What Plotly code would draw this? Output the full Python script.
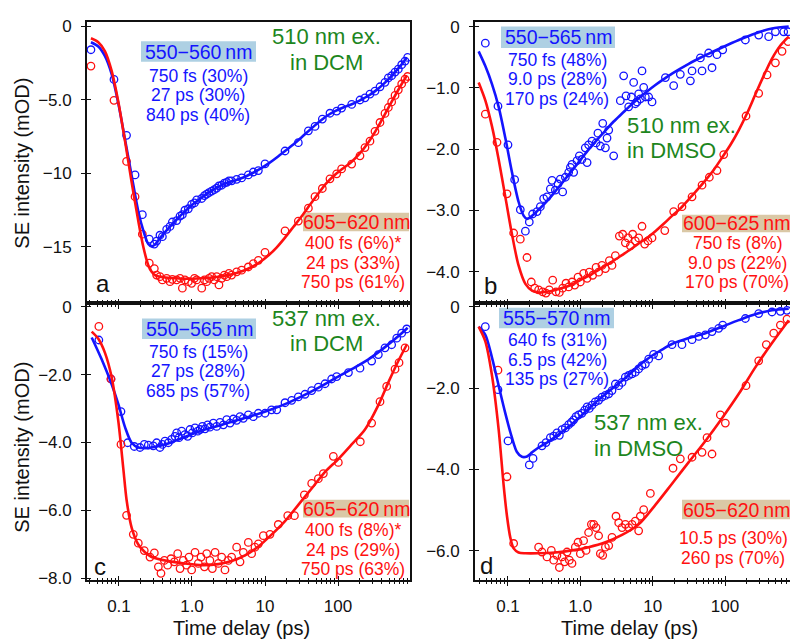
import plotly.graph_objects as go

W, H = 790, 641
FONT = "Liberation Sans, Arial, Helvetica, sans-serif"
BLUE = "#1414ff"
RED = "#ff1010"
GREEN = "#1d861d"
INK = "#111111"
BOX_BLUE = "#aed0e3"
BOX_TAN = "#dac8a6"

# ---------------- panel a : 510 nm ex. in DCM ----------------
a_t = [0.0413, 0.0854, 0.127, 0.166, 0.209, 0.26, 0.305, 0.328, 0.364, 0.393,
       0.45, 0.50, 0.538, 0.617, 0.686, 0.738, 0.80, 0.891, 0.989, 1.08,
       1.16, 1.36, 1.48, 1.59, 1.71, 1.86, 2.02, 2.18, 2.34, 2.55,
       2.77, 2.99, 3.21, 3.49, 4.09, 4.79, 5.91, 6.92, 8.11, 10.0,
       18.8, 28.6, 39.3, 48.4, 61.0, 77.6, 95.9, 112, 154, 200,
       234, 274, 321, 376, 440, 489, 543, 604, 670, 745, 828, 899]
a_blue = [-1.58, -3.6, -7.4, -10.1, -12.8, -14.47, -14.8, -14.6, -14.2, -14.3,
          -13.8, -13.6, -13.3, -13.2, -12.9, -12.8, -12.5, -12.4, -12.1, -12.0,
          -11.8, -11.7, -11.5, -11.4, -11.3, -11.2, -11.1, -11.0, -10.85, -10.8,
          -10.65, -10.6, -10.5, -10.5, -10.4, -10.3, -10.1, -9.9, -9.8, -9.35,
          -8.47, -7.9, -7.1, -6.8, -6.3, -5.9, -5.75, -5.55, -5.3, -5.0,
          -4.85, -4.6, -4.4, -4.1, -3.8, -3.5, -3.35, -3.1, -2.9, -2.6, -2.35, -2.1]
a_red = [-2.69, -5.02, -9.18, -11.58, -14.13, -16.1, -16.47, -16.91, -17.02, -17.24,
         -17.13, -17.36, -17.2, -17.24, -17.13, -17.8, -17.24, -17.36, -17.47, -17.13,
         -17.24, -17.8, -17.24, -17.36, -17.13, -17.02, -17.24, -17.02, -17.58, -17.13,
         -16.91, -17.02, -16.8, -16.91, -16.69, -16.58, -16.36, -16.13, -15.91, -15.36,
         -13.91, -13.24, -12.36, -11.58, -11.02, -10.36, -10.02, -9.69, -9.36, -8.8,
         -8.24, -7.8, -7.13, -6.53, -5.91, -5.51, -5.13, -4.69, -4.31, -3.91, -3.58, -3.4]
a_fit_t = [0.0413, 0.0521, 0.0643, 0.0794, 0.098, 0.121, 0.149, 0.184, 0.216, 0.252,
           0.28, 0.311, 0.364, 0.474, 0.617, 0.80, 1.04, 1.36, 1.76, 2.30,
           2.99, 3.88, 5.05, 6.56, 8.55, 11.1, 14.5, 18.8, 24.4, 31.8,
           41.3, 53.8, 70.0, 91.0, 118, 154, 200, 261, 339, 440, 573, 745, 873]
a_fit_blue = [-1.07, -1.36, -2.02, -3.24, -5.24, -7.69, -10.13, -12.58, -13.91, -14.8,
              -14.96, -14.84, -14.4, -13.73, -13.13, -12.58, -12.07, -11.64, -11.24, -10.91,
              -10.64, -10.47, -10.27, -10.0, -9.69, -9.33, -8.91, -8.47, -8.02, -7.53,
              -7.02, -6.53, -6.09, -5.76, -5.51, -5.29, -5.02, -4.71, -4.31, -3.82, -3.24, -2.58, -2.13]
a_fit_red = [-0.8, -1.07, -1.69, -3.02, -5.13, -7.8, -10.58, -13.24, -15.02, -16.24,
             -16.69, -16.91, -17.02, -17.09, -17.13, -17.16, -17.16, -17.13, -17.09, -17.02,
             -16.93, -16.8, -16.62, -16.36, -16.02, -15.58, -15.02, -14.36, -13.64, -12.91,
             -12.13, -11.36, -10.64, -10.09, -9.64, -9.2, -8.62, -7.87, -6.98, -5.96, -4.91, -3.91, -3.36]

# ---------------- panel b : 510 nm ex. in DMSO ----------------
b_blue_t = [0.0486, 0.0727, 0.1, 0.1236, 0.148, 0.174, 0.197, 0.219, 0.252, 0.280,
            0.311, 0.346, 0.385, 0.406, 0.451, 0.491, 0.529, 0.570, 0.621, 0.690,
            0.728, 0.767, 0.809, 0.900, 0.969, 1.05, 1.17, 1.24, 1.30, 1.45,
            1.65, 1.75, 1.89, 2.04, 2.22, 2.34, 2.47, 2.89, 3.57, 3.97,
            4.28, 4.66, 5.07, 5.46, 5.75, 6.07, 6.40, 6.75, 7.12, 7.51,
            7.92, 8.81, 9.80, 15.0, 19.5, 24.1, 33.2, 35.0, 45.6, 48.1,
            59.4, 66.1, 77.4, 92.9, 191, 292, 401, 497, 647, 743]
b_blue = [-0.272, -1.30, -1.93, -2.50, -2.99, -3.34, -3.19, -3.06, -3.02, -2.94,
          -2.81, -2.78, -2.65, -2.51, -2.67, -2.57, -2.49, -2.70, -2.46, -2.38,
          -2.30, -2.25, -2.38, -2.19, -2.11, -2.17, -1.98, -2.22, -1.93, -1.87,
          -1.90, -1.74, -1.95, -1.58, -1.98, -1.82, -1.69, -2.11, -1.21, -0.805,
          -1.13, -1.31, -1.15, -0.912, -1.26, -1.23, -1.10, -1.18, -0.725, -0.992,
          -1.15, -1.15, -1.23, -0.832, -0.965, -0.779, -0.885, -0.725, -0.512, -0.725,
          -0.432, -0.672, -0.459, -0.379, -0.219, -0.139, -0.165, -0.085, -0.085, -0.085]
b_red_t = [0.0486, 0.0705, 0.0969, 0.1197, 0.148, 0.183, 0.210, 0.234, 0.265, 0.302,
           0.335, 0.372, 0.415, 0.461, 0.513, 0.570, 0.634, 0.690, 0.767, 0.836,
           0.929, 1.0, 1.11, 1.24, 1.33, 1.48, 1.65, 1.79, 1.99, 2.22,
           2.52, 2.74, 3.05, 3.46, 3.85, 4.19, 4.56, 4.91, 5.29, 5.76,
           6.40, 7.12, 7.75, 8.61, 9.79, 14.7, 19.5, 25.4, 35.0, 48.1,
           60.7, 77.4, 95.9, 195, 292, 381, 497, 614, 743]
b_red = [-1.43, -1.89, -2.73, -3.37, -3.47, -3.77, -4.17, -4.27, -4.30, -4.33,
         -4.35, -4.30, -4.14, -4.33, -4.34, -4.27, -4.19, -4.25, -4.17, -4.22,
         -4.09, -4.17, -4.03, -4.11, -4.01, -4.06, -3.93, -4.01, -3.90, -3.95,
         -3.82, -3.90, -3.74, -3.42, -3.39, -3.53, -3.45, -3.58, -3.39, -3.50,
         -3.45, -3.26, -3.55, -3.50, -3.45, -3.33, -3.02, -2.94, -2.78, -2.59,
         -2.46, -2.35, -2.09, -1.46, -1.09, -0.789, -0.592, -0.405, -0.245]
b_fit_blue_t = [0.0393, 0.0486, 0.0601, 0.0743, 0.0919, 0.1135, 0.140, 0.165, 0.183, 0.215,
                0.265, 0.346, 0.451, 0.589, 0.767, 1.0, 1.30, 1.70, 2.22, 2.89,
                3.77, 4.91, 6.40, 8.35, 10.9, 14.2, 18.5, 31.5, 53.5, 90.9,
                155, 262, 446, 759]
b_fit_blue = [-0.405, -0.645, -0.939, -1.31, -1.82, -2.38, -2.86, -3.09, -3.14, -3.09,
              -2.99, -2.85, -2.69, -2.52, -2.35, -2.18, -2.01, -1.85, -1.70, -1.55,
              -1.42, -1.29, -1.17, -1.06, -0.955, -0.859, -0.768, -0.608, -0.469, -0.341,
              -0.219, -0.112, -0.032, 0.0]
b_fit_red_t = [0.0393, 0.0486, 0.0601, 0.0743, 0.0919, 0.1135, 0.140, 0.174, 0.215, 0.265,
               0.346, 0.451, 0.589, 0.767, 1.0, 1.30, 1.70, 2.22, 2.89, 3.77,
               4.91, 6.40, 8.35, 10.9, 14.2, 18.5, 24.1, 31.5, 41.0, 53.5,
               69.7, 90.9, 119, 155, 201, 262, 342, 446, 582, 759]
b_fit_red = [-0.912, -1.205, -1.63, -2.17, -2.78, -3.39, -3.90, -4.20, -4.31, -4.34,
             -4.33, -4.30, -4.26, -4.21, -4.14, -4.07, -3.99, -3.90, -3.82, -3.73,
             -3.64, -3.54, -3.45, -3.34, -3.22, -3.09, -2.97, -2.82, -2.67, -2.51,
             -2.34, -2.14, -1.93, -1.69, -1.42, -1.11, -0.805, -0.523, -0.309, -0.165]

# ---------------- panel c : 537 nm ex. in DCM ----------------
c_blue_t = [0.053, 0.0777, 0.1065, 0.1315, 0.162, 0.194, 0.222, 0.252, 0.295, 0.328,
            0.364, 0.393, 0.427, 0.474, 0.526, 0.585, 0.617, 0.664, 0.722, 0.80,
            0.873, 0.940, 1.01, 1.10, 1.20, 1.29, 1.39, 1.51, 1.64, 1.76,
            1.96, 2.18, 2.42, 2.69, 2.99, 3.32, 3.68, 4.09, 4.55, 5.05,
            5.91, 6.92, 8.11, 10.0, 12.3, 14.5, 18.8, 23.2, 28.6, 35.3,
            43.6, 53.8, 66.4, 81.8, 95.9, 139, 200, 289, 357, 440, 543, 637, 745, 873]
c_blue = [-0.98, -2.13, -3.09, -4.01, -4.12, -4.15, -4.06, -4.08, -4.10, -4.01,
          -4.15, -4.06, -3.96, -4.01, -3.91, -3.82, -3.72, -3.86, -3.67, -3.77,
          -3.82, -3.62, -3.72, -3.57, -3.67, -3.62, -3.53, -3.60, -3.48, -3.55,
          -3.43, -3.53, -3.41, -3.48, -3.33, -3.43, -3.31, -3.35, -3.24, -3.29,
          -3.19, -3.24, -3.14, -3.14, -3.04, -3.04, -2.83, -2.76, -2.66, -2.58,
          -2.47, -2.37, -2.27, -2.13, -2.06, -1.94, -1.81, -1.60, -1.41, -1.21, -1.12, -0.925, -0.780, -0.655]
c_red_t = [0.053, 0.0777, 0.1065, 0.127, 0.157, 0.184, 0.222, 0.266, 0.305, 0.346,
           0.376, 0.418, 0.464, 0.516, 0.573, 0.637, 0.686, 0.760, 0.845, 0.910,
           0.989, 1.10, 1.22, 1.33, 1.48, 1.59, 1.76, 1.90, 2.07, 2.30,
           2.55, 2.83, 3.15, 3.49, 4.09, 4.55, 5.05, 5.91, 6.56, 7.29,
           8.11, 9.49, 11.7, 15.2, 20.5, 25.3, 34.6, 43.6, 53.8, 63.0,
           86.3, 101, 202, 289, 376, 464, 604, 685, 828]
c_red = [-0.58, -2.13, -4.06, -6.15, -6.71, -6.97, -7.19, -7.38, -7.26, -7.67,
         -7.86, -7.48, -7.62, -7.43, -7.52, -7.28, -7.72, -7.48, -7.62, -7.38,
         -7.76, -7.24, -7.57, -7.38, -7.67, -7.28, -7.48, -7.72, -7.24, -7.57,
         -7.38, -7.76, -7.48, -7.38, -7.09, -7.52, -7.24, -6.95, -7.28, -7.09,
         -6.99, -6.75, -6.71, -6.42, -6.16, -6.16, -5.55, -5.21, -5.07, -4.92,
         -4.41, -4.59, -3.98, -3.43, -2.80, -2.35, -1.84, -1.65, -1.21]
c_fit_blue_t = [0.0423, 0.0579, 0.0794, 0.098, 0.121, 0.149, 0.184, 0.227, 0.280, 0.474,
                0.80, 1.36, 2.30, 3.88, 6.56, 11.1, 18.8, 31.8, 53.8, 91,
                154, 261, 440, 745, 899]
c_fit_blue = [-0.906, -1.55, -2.29, -2.87, -3.55, -4.01, -4.15, -4.17, -4.15, -4.03,
              -3.84, -3.65, -3.51, -3.36, -3.22, -3.06, -2.87, -2.64, -2.39, -2.11,
              -1.84, -1.55, -1.19, -0.78, -0.617]
c_fit_red_t = [0.0423, 0.0521, 0.0643, 0.0794, 0.098, 0.1147, 0.127, 0.149, 0.184, 0.227,
               0.280, 0.474, 0.80, 1.36, 2.30, 3.49, 5.32, 8.11, 12.3, 18.8,
               28.6, 43.6, 66.4, 101, 154, 234, 357, 489, 670, 873]
c_fit_red = [-0.732, -0.944, -1.36, -2.08, -3.38, -4.78, -5.69, -6.51, -7.01, -7.24,
             -7.38, -7.50, -7.57, -7.62, -7.59, -7.50, -7.33, -7.07, -6.72, -6.32,
             -5.84, -5.36, -4.87, -4.49, -4.06, -3.62, -2.90, -2.23, -1.60, -1.12]

# ---------------- panel d : 537 nm ex. in DMSO ----------------
d_blue_t = [0.0486, 0.0727, 0.1, 0.197, 0.222, 0.295, 0.335, 0.385, 0.428, 0.475,
            0.513, 0.558, 0.621, 0.690, 0.751, 0.809, 0.871, 0.948, 1.05, 1.15,
            1.24, 1.33, 1.45, 1.61, 1.79, 1.99, 2.22, 2.47, 2.74, 3.05,
            3.39, 3.77, 4.19, 4.66, 5.18, 5.75, 6.40, 7.12, 7.92, 8.81,
            10.3, 12.1, 18.5, 25.4, 35.0, 43.3, 53.5, 66.1, 81.7, 92.9,
            191, 292, 446, 582, 719]
d_blue = [-0.49, -2.04, -3.30, -3.89, -3.73, -3.42, -3.34, -3.22, -3.18, -3.10,
          -3.16, -3.02, -2.98, -2.90, -2.84, -2.78, -2.70, -2.66, -2.62, -2.54,
          -2.46, -2.50, -2.42, -2.34, -2.30, -2.22, -2.18, -2.14, -2.06, -1.90,
          -1.94, -1.86, -1.73, -1.69, -1.65, -1.61, -1.53, -1.45, -1.41, -1.29,
          -1.17, -1.21, -0.932, -0.932, -0.811, -0.731, -0.691, -0.610, -0.530, -0.450,
          -0.289, -0.169, -0.129, -0.112, -0.088]
d_red_t = [0.0727, 0.0969, 0.1197, 0.265, 0.295, 0.346, 0.397, 0.428, 0.475, 0.513,
           0.558, 0.607, 0.654, 0.705, 0.767, 0.853, 0.929, 1.0, 1.11, 1.20,
           1.30, 1.42, 1.53, 1.65, 1.79, 1.89, 2.04, 2.22, 2.47, 2.74,
           3.11, 3.39, 3.77, 4.19, 4.66, 5.18, 5.75, 6.40, 6.75, 7.51,
           9.29, 19.1, 24.1, 35.0, 48.1, 56.4, 66.1, 86.1, 101, 195,
           292, 372, 471, 582, 719]
d_red = [-1.56, -4.18, -5.82, -5.91, -6.03, -6.15, -5.99, -6.23, -6.11, -6.41,
         -6.15, -6.27, -6.03, -6.23, -6.31, -5.91, -5.79, -6.07, -5.75, -5.99,
         -5.55, -5.35, -5.35, -5.43, -5.63, -6.07, -6.11, -5.91, -5.87, -5.67,
         -5.15, -5.31, -5.43, -5.35, -5.43, -5.35, -5.27, -5.51, -5.15, -4.99,
         -4.59, -3.97, -3.74, -3.70, -3.58, -3.22, -3.62, -2.66, -2.86, -1.94,
         -1.33, -0.93, -0.65, -0.45, -0.305]
d_fit_blue_t = [0.0393, 0.0486, 0.0601, 0.0743, 0.0919, 0.1135, 0.133, 0.156, 0.183, 0.215,
                0.265, 0.346, 0.451, 0.589, 0.767, 1.0, 1.30, 1.70, 2.22, 2.89,
                3.77, 4.91, 6.40, 8.35, 10.9, 14.2, 18.5, 31.5, 53.5, 90.9,
                155, 262, 446, 759]
d_fit_blue = [-0.49, -0.69, -1.25, -1.94, -2.62, -3.22, -3.57, -3.69, -3.68, -3.58,
              -3.46, -3.34, -3.20, -3.04, -2.88, -2.70, -2.51, -2.32, -2.15, -1.98,
              -1.82, -1.64, -1.45, -1.29, -1.15, -1.03, -0.916, -0.771, -0.651, -0.490,
              -0.329, -0.185, -0.088, -0.048]
d_fit_red_t = [0.0393, 0.0486, 0.0601, 0.0743, 0.0871, 0.0969, 0.1076, 0.1197, 0.140, 0.174,
               0.265, 0.451, 0.767, 1.30, 2.22, 3.77, 6.40, 10.9, 18.5, 31.5,
               53.5, 90.9, 155, 262, 446, 759]
d_fit_red = [-0.49, -0.851, -1.69, -3.02, -4.39, -5.15, -5.67, -5.94, -6.04, -6.06,
             -6.06, -6.04, -5.99, -5.91, -5.79, -5.61, -5.35, -4.87, -4.35, -3.82,
             -3.30, -2.74, -2.14, -1.49, -0.89, -0.33]

# axis ticks
x_major = [0.1, 1, 10, 100]
x_major_text = ["0.1", "1.0", "10", "100"]
x_minor = [m * 10.0 ** e for e in range(-2, 3) for m in range(2, 10)]
y_ticks = {1: [0, -5, -10, -15], 2: [0, -1, -2, -3, -4],
           3: [0, -2, -4, -6, -8], 4: [0, -2, -4, -6]}
y_text = {1: ["0", "−5.0", "−10", "−15"],
          2: ["0", "−1.0", "−2.0", "−3.0", "−4.0"],
          3: ["0", "−2.0", "−4.0", "−6.0", "−8.0"],
          4: ["0", "−2.0", "−4.0", "−6.0"]}

# panel frames in pixels: left, right, top, bottom
frames = {1: (87, 410, 17, 304), 2: (475, 790, 17, 304),
          3: (87, 410, 304, 587), 4: (475, 790, 304, 587)}
x_ranges = {1: (-1.438, 2.986), 2: (-1.456, 2.898), 3: (-1.438, 2.986), 4: (-1.456, 2.898)}
y_ranges = {1: (-18.8, 0.33), 2: (-4.51, 0.08), 3: (-8.06, 0.116), 4: (-6.72, 0.096)}

series = {
    1: (a_t, a_blue, a_t, a_red, a_fit_t, a_fit_blue, a_fit_t, a_fit_red),
    2: (b_blue_t, b_blue, b_red_t, b_red, b_fit_blue_t, b_fit_blue, b_fit_red_t, b_fit_red),
    3: (c_blue_t, c_blue, c_red_t, c_red, c_fit_blue_t, c_fit_blue, c_fit_red_t, c_fit_red),
    4: (d_blue_t, d_blue, d_red_t, d_red, d_fit_blue_t, d_fit_blue, d_fit_red_t, d_fit_red),
}

fig = go.Figure()


def ax(n):
    return "" if n == 1 else str(n)


for i in range(1, 5):
    bt, by, rt, ry, fbt, fby, frt, fry = series[i]
    xa, ya = "x" + ax(i), "y" + ax(i)
    xo, yo = "x" + str(i + 4), "y" + str(i + 4)
    for t, y, col in ((bt, by, BLUE), (rt, ry, RED)):
        fig.add_trace(go.Scatter(x=t, y=y, mode="markers", xaxis=xa, yaxis=ya,
                                 marker=dict(symbol="circle-open", size=7.5, color=col,
                                             line=dict(width=1.3, color=col)),
                                 showlegend=False, hoverinfo="skip"))
    for t, y, col in ((fbt, fby, BLUE), (frt, fry, RED)):
        fig.add_trace(go.Scatter(x=t, y=y, mode="lines", xaxis=xo, yaxis=yo,
                                 line=dict(color=col, width=2.6, shape="spline", smoothing=0.8),
                                 showlegend=False, hoverinfo="skip"))

layout = dict(width=W, height=H, margin=dict(l=0, r=0, t=0, b=0),
              paper_bgcolor="white", plot_bgcolor="rgba(0,0,0,0)",
              font=dict(family=FONT, size=17, color=INK))

for i in range(1, 5):
    l, r, t, b = frames[i]
    xdom = [l / W, r / W]
    ydom = [1 - b / H, 1 - t / H]
    bottom = i in (3, 4)
    right_frame = i in (1, 3)
    xcommon = dict(type="log", range=list(x_ranges[i]), domain=xdom,
                   tickmode="array", tickvals=x_major, ticktext=x_major_text,
                   ticklen=4, tickwidth=1.4, tickcolor=INK, showgrid=False, zeroline=False,
                   minor=dict(tickmode="array", tickvals=x_minor, ticklen=2.5,
                              tickwidth=1.2, tickcolor=INK, showgrid=False))
    ycommon = dict(range=list(y_ranges[i]), domain=ydom, tickmode="array",
                   tickvals=y_ticks[i], ticktext=y_text[i], ticklen=4, tickwidth=1.4,
                   tickcolor=INK, showgrid=False, zeroline=False)
    xmain = dict(xcommon, anchor="y" + ax(i), showline=True, linecolor=INK, linewidth=1.8,
                 mirror=True, ticks="outside", showticklabels=bottom,
                 tickfont=dict(size=17, color=INK), ticklabelstandoff=6)
    xmain["minor"] = dict(xcommon["minor"], ticks="outside")
    ymain = dict(ycommon, anchor="x" + ax(i), showline=True, linecolor=INK, linewidth=1.8,
                 mirror=right_frame, ticks="outside", showticklabels=True,
                 tickfont=dict(size=17, color=INK), ticklabelstandoff=6)
    xover = dict(xcommon, anchor="y" + ax(i), overlaying="x" + ax(i), showline=False,
                 ticks="inside", showticklabels=False)
    xover["minor"] = dict(xcommon["minor"], ticks="inside")
    yover = dict(ycommon, anchor="x" + ax(i), overlaying="y" + ax(i), showline=False,
                 ticks="inside", showticklabels=False)
    layout["xaxis" + ax(i)] = xmain
    layout["yaxis" + ax(i)] = ymain
    layout["xaxis" + str(i + 4)] = xover
    layout["yaxis" + str(i + 4)] = yover

fig.update_layout(**layout)


def px(X, Y):
    return X / W, 1 - Y / H


annotations = []
shapes = []


def text(X, Y, s, size, color, anchor="center", angle=0, yanchor="middle"):
    x, y = px(X, Y)
    annotations.append(dict(x=x, y=y, xref="paper", yref="paper", text=s, showarrow=False,
                            xanchor=anchor, yanchor=yanchor, textangle=angle,
                            font=dict(family=FONT, size=size, color=color)))


def band(x0, x1, y0, y1, fill, label, color):
    a0, b1 = px(x0, y0)
    a1, b0 = px(x1, y1)
    shapes.append(dict(type="rect", xref="paper", yref="paper", x0=a0, x1=a1, y0=b0, y1=b1,
                       fillcolor=fill, line=dict(width=0), layer="below"))
    text((x0 + x1) / 2, (y0 + y1) / 2, label, 19.5, color)


NM = "\u2009nm"
# band labels
band(141, 256, 37, 58, BOX_BLUE, "550−560" + NM, BLUE)
band(303, 409, 212, 231, BOX_TAN, "605−620" + NM, RED)
band(501, 615, 22, 44, BOX_BLUE, "550−565" + NM, BLUE)
band(682, 790, 214, 232, BOX_TAN, "600−625" + NM, RED)
band(142, 256, 320, 341, BOX_BLUE, "550−565" + NM, BLUE)
band(303, 409, 505, 523, BOX_TAN, "605−620" + NM, RED)
band(499, 614, 309, 330, BOX_BLUE, "555−570" + NM, BLUE)
band(682, 790, 505, 525, BOX_TAN, "605−620" + NM, RED)

# fitted lifetimes and amplitudes
lifetimes = [
    (198, [72, 92, 112], ["750 fs (30%)", "27 ps (30%)", "840 ps (40%)"], BLUE),
    (353, [243, 263, 283], ["400 fs (6%)*", "24 ps (33%)", "750 ps (61%)"], RED),
    (557, [56, 76, 96], ["750 fs (48%)", "9.0 ps (28%)", "170 ps (24%)"], BLUE),
    (737, [243, 263, 283], ["750 fs (8%)", "9.0 ps (22%)", "170 ps (70%)"], RED),
    (198, [354, 374, 394], ["750 fs (15%)", "27 ps (28%)", "685 ps (57%)"], BLUE),
    (353, [536, 556, 576], ["400 fs (8%)*", "24 ps (29%)", "750 ps (63%)"], RED),
    (557, [342, 362, 382], ["640 fs (31%)", "6.5 ps (42%)", "135 ps (27%)"], BLUE),
    (733, [544, 564], ["10.5 ps (30%)", "260 ps (70%)"], RED),
]
for X, Ys, lines, col in lifetimes:
    for Y, s in zip(Ys, lines):
        text(X, Y, s, 17.5, col)

# excitation / solvent captions
text(326, 32, "510 nm ex.", 22, GREEN)
text(326, 59, "in DCM", 22, GREEN)
text(625, 123, "510 nm ex.", 22, GREEN, anchor="left")
text(625, 149, "in DMSO", 22, GREEN, anchor="left")
text(326, 320, "537 nm ex.", 22, GREEN)
text(326, 345, "in DCM", 22, GREEN)
text(592, 426, "537 nm ex.", 22, GREEN, anchor="left")
text(592, 453, "in DMSO", 22, GREEN, anchor="left")

# panel letters
text(103, 284, "a", 24, INK)
text(490, 286, "b", 24, INK)
text(100, 573, "c", 24, INK)
text(487, 572, "d", 24, INK)

# axis titles
text(22, 162, "SE intensity (mOD)", 20, INK, angle=-90)
text(22, 452, "SE intensity (mOD)", 20, INK, angle=-90)
text(241, 649, "Time delay (ps)", 20, INK, yanchor="bottom")
text(629, 649, "Time delay (ps)", 20, INK, yanchor="bottom")

fig.update_layout(annotations=annotations, shapes=shapes)
fig.write_html("out.html")
